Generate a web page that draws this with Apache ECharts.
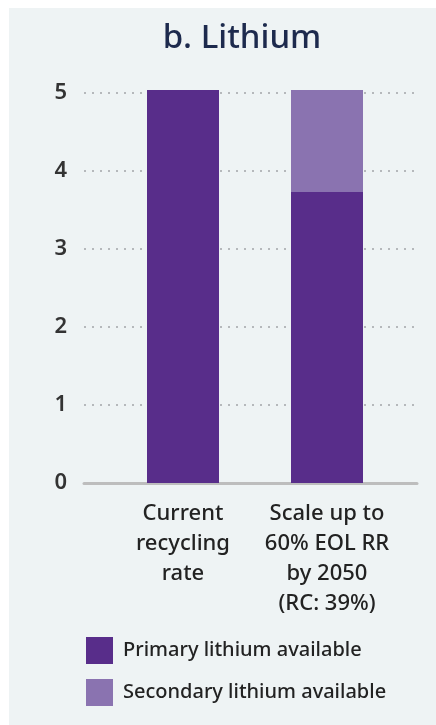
<!DOCTYPE html>
<html>
<head>
<meta charset="utf-8">
<script src="https://cdn.jsdelivr.net/npm/echarts@6/dist/echarts.min.js"></script>
<style>
  html, body { margin: 0; padding: 0; background: #ffffff; }
  #chart { width: 436px; height: 725px; }
</style>
</head>
<body>
<div id="chart"></div>
<script>
// Lithium availability under two recycling scenarios
const categories = ['Current\nrecycling\nrate', 'Scale up to\n60% EOL RR\nby 2050\n(RC: 39%)'];
const primaryLithium = [5.04, 3.73];
const secondaryLithium = [0, 1.31];
const yTicks = [0, 1, 2, 3, 4, 5];
const seriesNames = ['Primary lithium available', 'Secondary lithium available'];

const FONT = '"Noto Sans", sans-serif';
const PRIMARY = '#582d8a';
const SECONDARY = '#8a73b0';

const chart = echarts.init(document.getElementById('chart'), null, { renderer: 'canvas' });

const yMin = yTicks[0];
const yMax = yTicks[yTicks.length - 1];
const yStep = yTicks[1] - yTicks[0];

chart.setOption({
  animation: false,
  backgroundColor: '#ffffff',
  graphic: [{
    type: 'rect',
    z: -10,
    shape: { x: 9, y: 8, width: 427, height: 717 },
    style: { fill: '#eef3f4' }
  }],
  title: {
    text: 'b. Lithium',
    left: 242,
    top: 22,
    textAlign: 'center',
    padding: 0,
    textStyle: { fontFamily: FONT, fontSize: 33, fontWeight: 500, color: '#1d2a4d' }
  },
  legend: {
    orient: 'vertical',
    left: 86,
    top: 637,
    padding: 0,
    itemWidth: 27,
    itemHeight: 27,
    itemGap: 15,
    icon: 'rect',
    data: seriesNames,
    textStyle: { fontFamily: FONT, fontSize: 20, fontWeight: 500, color: '#222', padding: [3, 0, 0, 5] }
  },
  grid: [
    // frame grid: gridlines, baseline and value labels
    { left: 84, right: 19, top: 93, bottom: 242 },
    // bar grid: narrower band for the two columns
    { left: 111, right: 37, top: 93, bottom: 242 }
  ],
  xAxis: [
    {
      gridIndex: 0, type: 'category', data: [''],
      axisLine: { show: true, lineStyle: { color: '#bdbdbd', width: 3 } },
      axisTick: { show: false }, axisLabel: { show: false }
    },
    {
      gridIndex: 1, type: 'category', data: categories,
      axisLine: { show: false }, axisTick: { show: false },
      axisLabel: {
        margin: 16, fontFamily: FONT, fontSize: 22, fontWeight: 500, lineHeight: 30,
        color: '#222', align: 'center', interval: 0
      }
    }
  ],
  yAxis: [
    {
      gridIndex: 0, type: 'value', min: yMin, max: yMax, interval: yStep,
      axisLine: { show: false }, axisTick: { show: false },
      axisLabel: { margin: 17, fontFamily: FONT, fontSize: 22, fontWeight: 600, color: '#333' },
      splitLine: { show: true, lineStyle: { color: '#b5b8bb', width: 2, type: [2, 6] } }
    },
    {
      gridIndex: 1, type: 'value', min: yMin, max: yMax, interval: yStep,
      axisLine: { show: false }, axisTick: { show: false },
      axisLabel: { show: false }, splitLine: { show: false }
    }
  ],
  series: [
    {
      name: seriesNames[0], type: 'bar', stack: 'li',
      xAxisIndex: 1, yAxisIndex: 1, barWidth: 72, clip: false,
      itemStyle: { color: PRIMARY },
      data: primaryLithium
    },
    {
      name: seriesNames[1], type: 'bar', stack: 'li',
      xAxisIndex: 1, yAxisIndex: 1, barWidth: 72, clip: false,
      itemStyle: { color: SECONDARY },
      data: secondaryLithium
    }
  ]
});
</script>
</body>
</html>
